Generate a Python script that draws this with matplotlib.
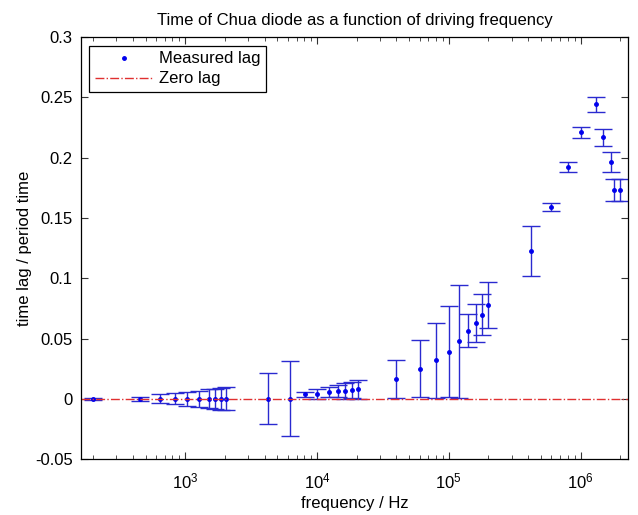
import matplotlib
matplotlib.use("Agg")
import matplotlib.pyplot as plt
from matplotlib.ticker import FixedLocator, FuncFormatter, LogLocator, NullFormatter

plt.rcParams['font.family'] = ['Liberation Sans', 'DejaVu Sans']
plt.rcParams['axes.unicode_minus'] = False

title = "Time of Chua diode as a function of driving frequency"
xlabel = "frequency / Hz"
ylabel = "time lag / period time"

freq = [200, 450, 640, 830, 1030, 1270, 1510, 1690, 1880, 2050,
        4250, 6200,
        8100, 10000, 12400, 14400, 16400, 18400, 20600,
        40000, 60000, 80000, 100000, 120000, 140000, 160000, 180000, 200000,
        420000, 600000, 800000, 1000000, 1300000, 1480000, 1690000, 1790000, 1990000]
lag = [0, 0, 0, 0, 0, 0, 0, 0, 0, 0,
       0, 0,
       0.0036, 0.0036, 0.0055, 0.0063, 0.0063, 0.0071, 0.0079,
       0.0164, 0.0251, 0.032, 0.0391, 0.0478, 0.0566, 0.0626, 0.0697, 0.0776,
       0.1226, 0.1594, 0.1925, 0.2211, 0.2443, 0.2169, 0.1964, 0.1731, 0.1731]
err = [0.001, 0.0015, 0.0036, 0.0044, 0.0057, 0.0068, 0.0077, 0.0082, 0.009, 0.0096,
       0.021, 0.031,
       0.0022, 0.0041, 0.0041, 0.0049, 0.0068, 0.0068, 0.0077,
       0.016, 0.0235, 0.031, 0.038, 0.047, 0.0135, 0.0157, 0.017, 0.019,
       0.021, 0.0032, 0.0041, 0.0048, 0.0063, 0.007, 0.008, 0.0093, 0.0093]

yticks = [-0.05, 0, 0.05, 0.1, 0.15, 0.2, 0.25, 0.3]
xlim = [162, 2.28e6]
ylim = [-0.05, 0.3]

fig = plt.figure(figsize=(6.38, 5.15), dpi=100)
ax = fig.add_axes([0.127, 0.1087, 0.857, 0.819])

ax.errorbar(freq, lag, yerr=err, fmt='none', ecolor='#2a2ad0', elinewidth=1.0,
            capsize=6.2, capthick=1.0)
ax.plot(freq, lag, linestyle='none', marker='.', color='#0000ee', markersize=5,
        label='Measured lag')
ax.axhline(0, color='#e03030', linestyle='-.', linewidth=1.0, label='Zero lag')

ax.set_xscale('log')
ax.set_xlim(xlim)
ax.set_ylim(ylim)
ax.yaxis.set_major_locator(FixedLocator(yticks))
ax.yaxis.set_major_formatter(FuncFormatter(lambda v, p: '%g' % round(v, 3)))
ax.xaxis.set_major_locator(LogLocator(base=10))
ax.xaxis.set_minor_locator(LogLocator(base=10, subs=range(2, 10)))
ax.xaxis.set_minor_formatter(NullFormatter())

ax.tick_params(which='both', direction='in', top=True, right=True, labelsize=12,
               color='#333333')
ax.tick_params(which='major', length=5)
ax.tick_params(which='minor', length=3)
ax.tick_params(axis='x', which='major', pad=9)
ax.tick_params(axis='y', which='major', pad=6)
for s in ax.spines.values():
    s.set_linewidth(0.9)

ax.set_title(title, fontsize=12, pad=9)
ax.set_xlabel(xlabel, fontsize=12, labelpad=3)
ax.set_ylabel(ylabel, fontsize=12, labelpad=2)

leg = ax.legend(loc='upper left', fontsize=12, fancybox=False, edgecolor='black',
                framealpha=1, handlelength=3.4, handletextpad=0.4,
                borderaxespad=0.5, borderpad=0.35, labelspacing=0.3)
leg.get_frame().set_linewidth(0.9)

fig.savefig('out.png', dpi=100)
